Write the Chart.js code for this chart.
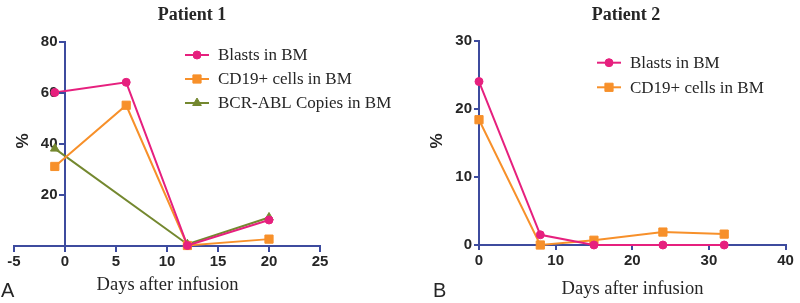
<!DOCTYPE html>
<html>
<head>
<meta charset="utf-8">
<script src="https://cdn.jsdelivr.net/npm/chart.js@4.4.1/dist/chart.umd.min.js"></script>
<style>
  html, body { margin: 0; padding: 0; background: #ffffff; }
  #wrap { position: relative; width: 800px; height: 303px; overflow: hidden; }
  .panel { position: absolute; top: 0; width: 400px; height: 303px; }
</style>
</head>
<body>
<div id="wrap">
  <div class="panel" style="left:0"><canvas id="c1" width="400" height="303"></canvas></div>
  <div class="panel" style="left:400px"><canvas id="c2" width="400" height="303"></canvas></div>
</div>
<script>
// ---------- Data ----------
const p1BlastDays = [-1, 6, 12, 20];
const p1Blasts    = [60, 64, 0, 10];
const p1CD19Days  = [-1, 6, 12, 20];
const p1CD19      = [31, 55, 0, 2.5];
const p1BcrDays   = [-1, 12, 20];
const p1Bcr       = [38, 0.5, 11];

const p2Days      = [0, 8, 15, 24, 32];
const p2Blasts    = [24, 1.5, 0, 0, 0];
const p2CD19      = [18.4, 0, 0.7, 1.9, 1.6];

const seriesLabels = ['Blasts in BM', 'CD19+ cells in BM', 'BCR-ABL Copies in BM'];
const panelTitles  = ['Patient 1', 'Patient 2'];
const xAxisTitle   = 'Days after infusion';
const yAxisTitle   = '%';
const panelLetters = ['A', 'B'];

// ---------- Styles ----------
const PINK = '#e6207e', ORANGE = '#f7902a', GREEN = '#74882f', NAVY = '#3d4b9e';
const TXT = '#262626';
const tickFont = { family: '"Liberation Sans", Arial, sans-serif', size: 15, weight: 'bold' };

function pts(xs, ys) { return xs.map((x, i) => ({ x: x, y: ys[i] })); }

function ds(label, data, color, style, r) {
  return {
    label: label, data: data, borderColor: color, backgroundColor: color,
    borderWidth: 2, pointStyle: style, pointRadius: r, pointHoverRadius: r,
    pointBorderWidth: 1, tension: 0, fill: false, clip: false
  };
}

function axis(min, max, step, fmt) {
  return {
    type: 'linear', min: min, max: max,
    ticks: {
      stepSize: step, font: tickFont, color: TXT, padding: 2,
      maxRotation: 0, autoSkip: false, callback: fmt
    },
    grid: { drawOnChartArea: false, drawTicks: true, tickLength: 5, color: NAVY, lineWidth: 2 },
    border: { display: true, color: NAVY, width: 2 }
  };
}

const textPlugin = {
  id: 'panelText',
  afterDraw(chart, args, o) {
    const ctx = chart.ctx;
    ctx.save();
    // tick marks for axes placed inside the plot (positioned at a value)
    (o.tickAxes || []).forEach(id => {
      const s = chart.scales[id];
      const other = chart.scales[id === 'x' ? 'y' : 'x'];
      const base = other.getPixelForValue(0);
      ctx.strokeStyle = NAVY; ctx.lineWidth = 2;
      s.ticks.forEach(t => {
        const p = Math.round(s.getPixelForValue(t.value));
        ctx.beginPath();
        if (id === 'x') { ctx.moveTo(p, base); ctx.lineTo(p, base + 6); }
        else { ctx.moveTo(base, p); ctx.lineTo(base - 6, p); }
        ctx.stroke();
      });
    });
    ctx.fillStyle = TXT;
    // title
    ctx.font = 'bold 18px "Liberation Serif", "Times New Roman", serif';
    ctx.textAlign = 'center'; ctx.textBaseline = 'middle';
    ctx.fillText(o.title, o.titleX, o.titleY);
    // x axis title
    ctx.font = '18.5px "Liberation Serif", "Times New Roman", serif';
    ctx.fillText(o.xTitle, o.xTitleX, o.xTitleY);
    // y axis title
    ctx.save();
    ctx.translate(o.yTitleX, o.yTitleY);
    ctx.rotate(-Math.PI / 2);
    ctx.font = 'bold 17px "Liberation Sans", Arial, sans-serif';
    ctx.fillText(o.yTitle, 0, 0);
    ctx.restore();
    // panel letter
    ctx.font = '20px "Liberation Sans", Arial, sans-serif';
    ctx.textAlign = 'left'; ctx.textBaseline = 'alphabetic';
    ctx.fillText(o.letter, o.letterX, o.letterY);
    // legend
    chart.data.datasets.forEach((d, i) => {
      const y = o.legendY + i * o.legendGap;
      ctx.strokeStyle = d.borderColor; ctx.lineWidth = 2;
      ctx.beginPath(); ctx.moveTo(o.legendX, y); ctx.lineTo(o.legendX + 24, y); ctx.stroke();
      ctx.fillStyle = d.backgroundColor; ctx.strokeStyle = d.borderColor; ctx.lineWidth = 1;
      Chart.helpers.drawPoint(ctx, { pointStyle: d.pointStyle, radius: d.pointRadius, borderWidth: 1, rotation: 0 }, o.legendX + 12, y);
      ctx.fillStyle = TXT;
      ctx.font = '17px "Liberation Serif", "Times New Roman", serif';
      ctx.textAlign = 'left'; ctx.textBaseline = 'middle';
      ctx.fillText(d.label, o.legendX + 33, y + 1);
    });
    ctx.restore();
  }
};

// ---------- Panel 1 (y axis crosses at day 0) ----------
const x1 = axis(-5, 25, 5, v => String(v)); x1.position = { y: 0 };
const y1 = axis(0, 80, 20, v => v === 0 ? '' : String(v) + '\u2002'); y1.position = { x: 0 };
new Chart(document.getElementById('c1'), {
  type: 'line',
  data: {
    datasets: [
      ds(seriesLabels[0], pts(p1BlastDays, p1Blasts), PINK, 'circle', 4),
      ds(seriesLabels[1], pts(p1CD19Days, p1CD19), ORANGE, 'rect', 5.8),
      ds(seriesLabels[2], pts(p1BcrDays, p1Bcr), GREEN, 'triangle', 5)
    ]
  },
  options: {
    responsive: false, animation: false, events: [],
    layout: { padding: { left: 14, right: 80, top: 41.5, bottom: 57.5 } },
    scales: { x: x1, y: y1 },
    plugins: {
      legend: { display: false }, tooltip: { enabled: false },
      panelText: {
        tickAxes: ['x', 'y'],
        title: panelTitles[0], titleX: 192, titleY: 15,
        xTitle: xAxisTitle, xTitleX: 167.5, xTitleY: 285,
        yTitle: yAxisTitle, yTitleX: 23, yTitleY: 141,
        letter: panelLetters[0], letterX: 1, letterY: 297,
        legendX: 185, legendY: 55, legendGap: 24
      }
    }
  },
  plugins: [textPlugin]
});

// ---------- Panel 2 (standard left / bottom axes) ----------
const x2 = axis(0, 40, 10, v => String(v)); x2.position = 'bottom';
x2.afterFit = s => { s.height = 30; };
const y2 = axis(0, 30, 10, v => String(v)); y2.position = 'left';
y2.afterFit = s => { s.width = 40; };
new Chart(document.getElementById('c2'), {
  type: 'line',
  data: {
    datasets: [
      ds(seriesLabels[0], pts(p2Days, p2Blasts), PINK, 'circle', 4),
      ds(seriesLabels[1], pts(p2Days, p2CD19), ORANGE, 'rect', 5.8)
    ]
  },
  options: {
    responsive: false, animation: false, events: [],
    layout: { padding: { left: 39, right: 14.5, top: 40.7, bottom: 28 } },
    scales: { x: x2, y: y2 },
    plugins: {
      legend: { display: false }, tooltip: { enabled: false },
      panelText: {
        title: panelTitles[1], titleX: 226, titleY: 15,
        xTitle: xAxisTitle, xTitleX: 232.5, xTitleY: 289,
        yTitle: yAxisTitle, yTitleX: 37.5, yTitleY: 141,
        letter: panelLetters[1], letterX: 33, letterY: 297,
        legendX: 197, legendY: 62.7, legendGap: 24.6
      }
    }
  },
  plugins: [textPlugin]
});
</script>
</body>
</html>
